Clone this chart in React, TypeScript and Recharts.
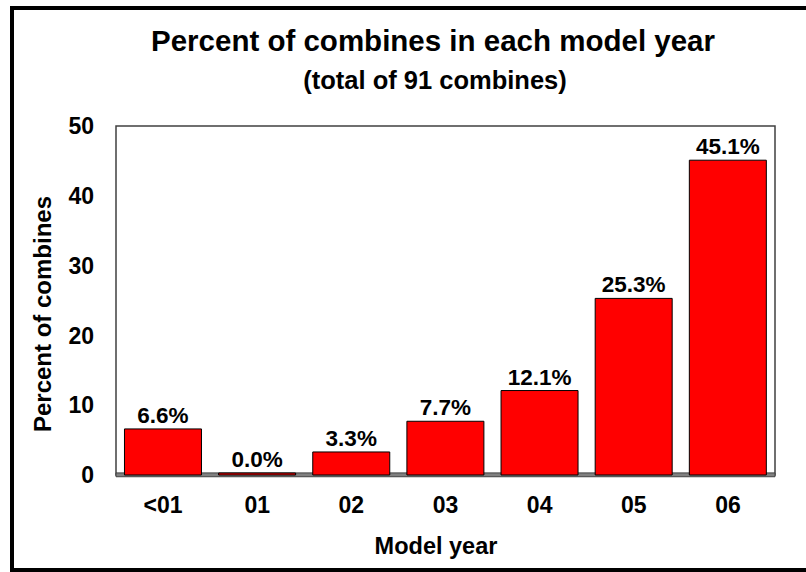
import { BarChart, Bar, XAxis, YAxis, ReferenceArea, LabelList, Label } from 'recharts';

const modelYears = ['<01', '01', '02', '03', '04', '05', '06'];
const percentValues = [6.6, 0.0, 3.3, 7.7, 12.1, 25.3, 45.1];
const yTicks = [0, 10, 20, 30, 40, 50];

const FONT = '"Liberation Sans", Arial, sans-serif';

const data = modelYears.map((year, i) => ({ year, pct: percentValues[i] }));

const XTitle = () => (
  <text x={436} y={554} textAnchor="middle" fontFamily={FONT} fontWeight="bold" fontSize={23.5} fill="#000">
    Model year
  </text>
);

const YTitle = () => (
  <text
    x={42}
    y={314}
    transform="rotate(-90 42 314)"
    textAnchor="middle"
    dominantBaseline="central"
    fontFamily={FONT}
    fontWeight="bold"
    fontSize={24}
    fill="#000"
  >
    Percent of combines
  </text>
);

export default function App() {
  return (
    <div style={{ position: 'fixed', left: 0, top: 0, width: 806, height: 572, overflow: 'hidden', background: '#fff' }}>
      {/* outer frame, right edge runs off the picture */}
      <div
        style={{
          position: 'absolute',
          left: 10,
          top: 6,
          width: 806,
          height: 566,
          border: '4px solid #000',
          boxSizing: 'border-box',
        }}
      />
      <div
        style={{
          position: 'absolute',
          left: 0,
          width: 866,
          top: 26,
          textAlign: 'center',
          fontFamily: FONT,
          fontWeight: 'bold',
          fontSize: 29.5,
          lineHeight: '29.5px',
          whiteSpace: 'nowrap',
        }}
      >
        Percent of combines in each model year
      </div>
      <div
        style={{
          position: 'absolute',
          left: 0,
          width: 870,
          top: 68,
          textAlign: 'center',
          fontFamily: FONT,
          fontWeight: 'bold',
          fontSize: 25.5,
          lineHeight: '25.5px',
          whiteSpace: 'nowrap',
        }}
      >
        (total of 91 combines)
      </div>
      <div style={{ position: 'absolute', left: 0, top: 0 }}>
        <BarChart
          width={806}
          height={572}
          data={data}
          margin={{ top: 126, right: 31, bottom: 27, left: 36 }}
          barCategoryGap="9%"
        >
          <ReferenceArea y1={0} y2={50} fill="#fff" stroke="#404040" strokeWidth={1.5} fillOpacity={1} />
          <ReferenceArea
            y1={-0.25}
            y2={0.3}
            fill="#808080"
            stroke="#404040"
            fillOpacity={1}
            ifOverflow="visible"
          />
          <XAxis
            dataKey="year"
            height={70}
            axisLine={false}
            tickLine={false}
            tickSize={0}
            tickMargin={22}
            tick={{ fontFamily: FONT, fontWeight: 'bold', fontSize: 23, fill: '#000' }}
            interval={0}
          >
            <Label content={<XTitle />} />
          </XAxis>
          <YAxis
            width={80}
            domain={[0, 50]}
            ticks={yTicks}
            axisLine={false}
            tickLine={false}
            tickSize={0}
            tickMargin={22}
            tick={{ fontFamily: FONT, fontWeight: 'bold', fontSize: 23, fill: '#000' }}
          >
            <Label content={<YTitle />} />
          </YAxis>
          <Bar
            dataKey="pct"
            fill="#ff0000"
            stroke="#000"
            strokeWidth={1}
            minPointSize={2}
            isAnimationActive={false}
          >
            <LabelList
              dataKey="pct"
              position="top"
              offset={6}
              formatter={(v: number) => `${Number(v).toFixed(1)}%`}
              style={{ fontFamily: FONT, fontWeight: 'bold', fontSize: 22.5, fill: '#000' }}
            />
          </Bar>
        </BarChart>
      </div>
    </div>
  );
}
